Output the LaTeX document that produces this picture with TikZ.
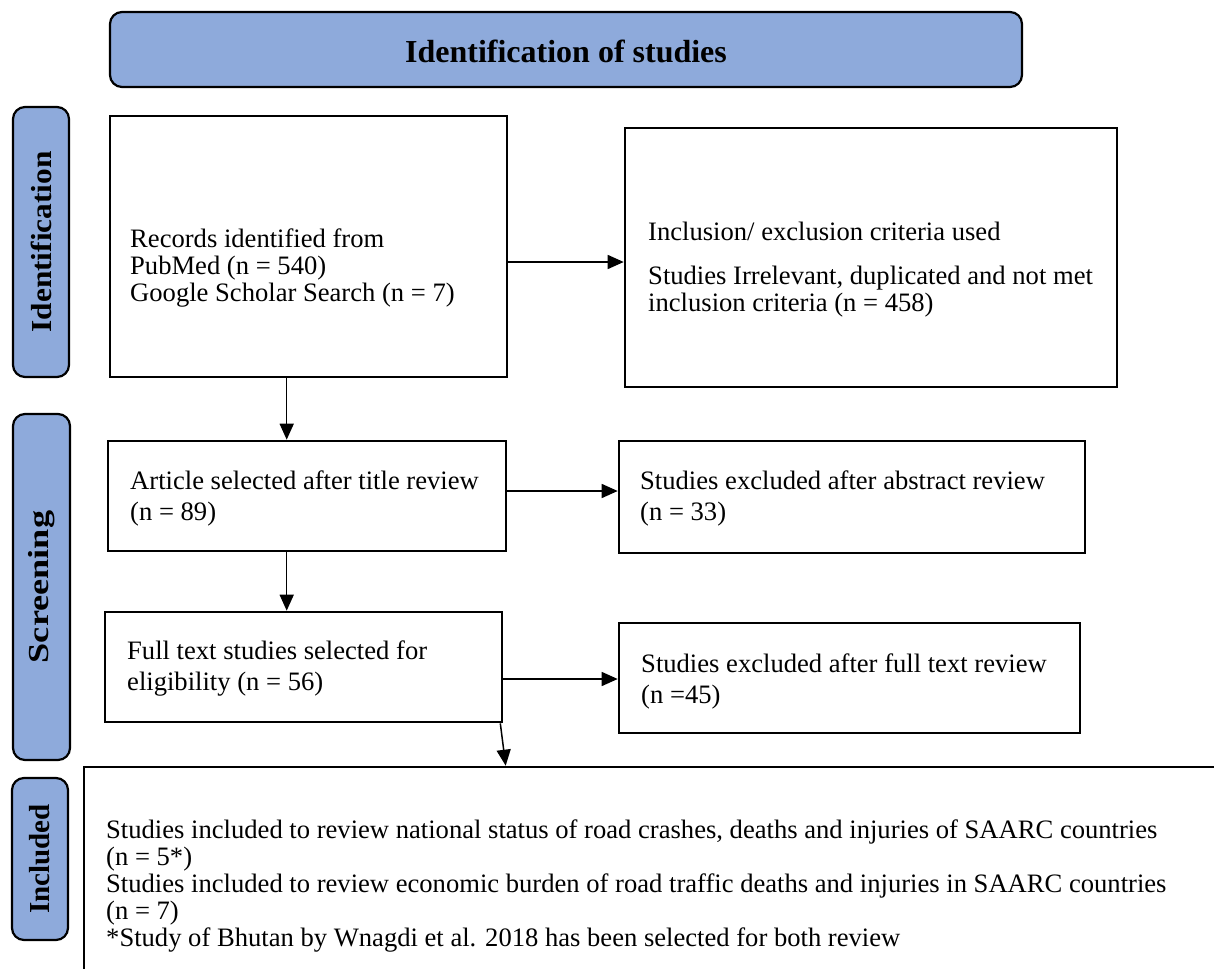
\documentclass[tikz,border=0pt]{standalone}
\usepackage{fontspec}
\setmainfont{Liberation Serif}
\usetikzlibrary{arrows.meta,fit}
\definecolor{phasefill}{HTML}{8EAADB}
\begin{document}
\begin{tikzpicture}[x=1pt,y=1pt,
  box/.style={draw=black,line width=2.6pt,fill=white,inner sep=0pt},
  phasebox/.style={draw=black,line width=2.2pt,fill=phasefill,rounded corners=12pt,inner sep=0pt},
  txt/.style={anchor=west,align=left,inner sep=0pt,font=\fontsize{26.6}{31}\selectfont},
  tighttxt/.style={txt,font=\fontsize{26.6}{27}\selectfont},
  phasetxt/.style={rotate=90,inner sep=0pt,font=\fontsize{29}{33}\selectfont\bfseries},
  arr/.style={line width=1.5pt,-{Triangle[length=16pt,width=14pt]}}
]
\useasboundingbox (0,0) rectangle (1214,-968);
\clip (0,0) rectangle (1214,-968);

% stage banners
\node[phasebox,fit={(110,-12)(1022,-87)}] (head) {};
\node[inner sep=0pt,font=\fontsize{32}{36}\selectfont\bfseries] (headtxt) at ([yshift=-2pt]head.center) {Identification of studies};

\node[phasebox,fit={(13,-107)(69,-377)}] (idlab) {};
\node[phasetxt,xscale=1.08] (idtxt) at (idlab.center) {Identification};
\node[phasebox,fit={(13,-414)(70,-760)}] (scrlab) {};
\node[phasetxt,xscale=1.25] (scrtxt) at (scrlab.center) {Screening};
\node[phasebox,fit={(12,-778)(68,-940)}] (inclab) {};
\node[phasetxt] (inctxt) at (inclab.center) {Included};

% flow boxes
\node[box,fit={(110,-116)(507,-377)}] (records) {};
\node[tighttxt] (recordstxt) at (130,-268) {Records identified from\\PubMed (n = 540)\\Google Scholar Search (n = 7)};

\node[box,fit={(625,-128)(1117,-387)}] (criteria) {};
\node[tighttxt] (criteriatxt) at (648,-270) {Inclusion/ exclusion criteria used\\[17pt]Studies Irrelevant, duplicated and not met\\inclusion criteria (n = 458)};

\node[box,fit={(108,-441)(506,-551)}] (title) {};
\node[txt] (titletxt) at (130,-498) {Article selected after title review\\(n = 89)};

\node[box,fit={(619,-441)(1085,-553)}] (abstract) {};
\node[txt] (abstracttxt) at (640,-498) {Studies excluded after abstract review\\(n = 33)};

\node[box,fit={(105,-612)(502,-722)}] (fulltext) {};
\node[txt] (fulltexttxt) at (127,-668) {Full text studies selected for\\eligibility (n = 56)};

\node[box,fit={(619,-623)(1080,-733)}] (ftexcl) {};
\node[txt] (ftexcltxt) at (641,-681) {Studies excluded after full text review\\(n =45)};

\node[box,fit={(84,-767)(1240,-1000)}] (included) {};
\node[tighttxt] (includedtxt) at (106,-886) {Studies included to review national status of road crashes, deaths and injuries of SAARC countries\\(n = 5*)\\Studies included to review economic burden of road traffic deaths and injuries in SAARC countries\\(n = 7)\\*Study of Bhutan by Wnagdi et al. 2018 has been selected for both review};

% connectors
\draw[arr] ([yshift=-15.5pt]records.east) -- ([yshift=-15.5pt]records.east -| criteria.west);
\draw[arr] ([xshift=178pt]records.south west) -- ([xshift=178pt]records.south west |- title.north);
\draw[arr] ([yshift=5pt]title.east) -- ([yshift=5pt]title.east -| abstract.west);
\draw[arr] ([xshift=180pt]title.south west) -- ([xshift=180pt]title.south west |- fulltext.north);
\draw[arr] ([yshift=-12pt]fulltext.east) -- ([yshift=-12pt]fulltext.east -| ftexcl.west);
\draw[arr] ([xshift=-3pt]fulltext.south east) -- ([xshift=423pt]included.north west);
\end{tikzpicture}
\end{document}
